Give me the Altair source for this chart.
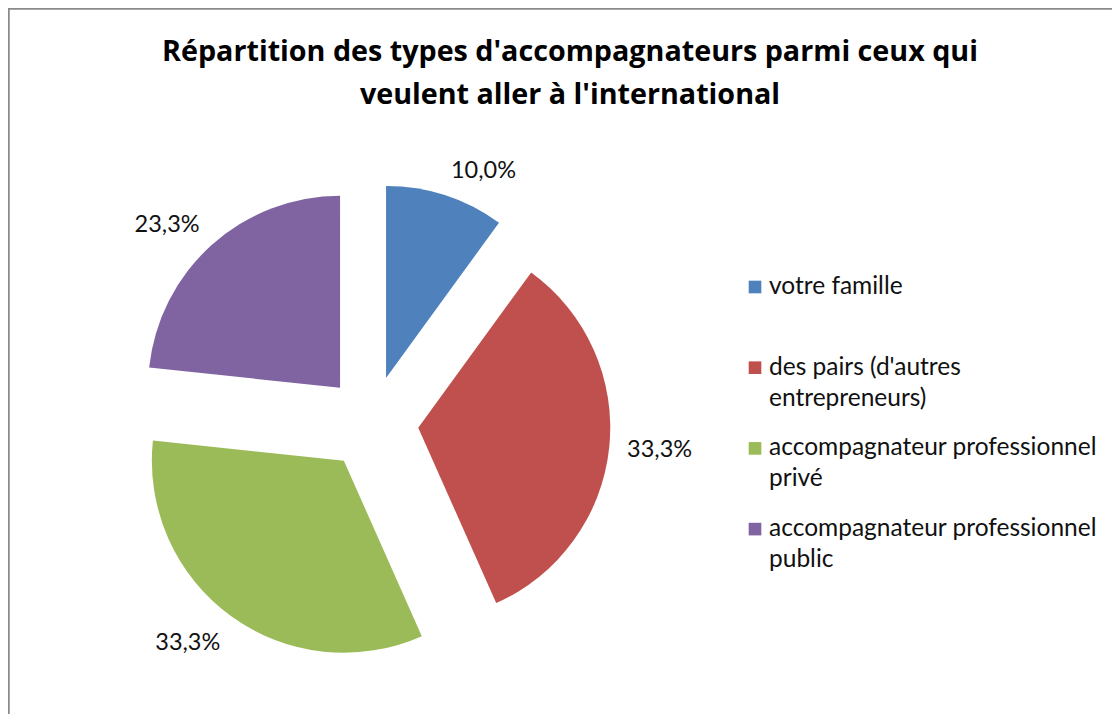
import altair as alt
import pandas as pd

# ---- data ----
categories = [
    "votre famille",
    "des pairs (d'autres entrepreneurs)",
    "accompagnateur professionnel privé",
    "accompagnateur professionnel public",
]
legend_lines = [
    "votre famille",
    "des pairs (d'autres\nentrepreneurs)",
    "accompagnateur professionnel\nprivé",
    "accompagnateur professionnel\npublic",
]
percentages = [10.0, 33.3, 33.3, 23.3]
pct_labels = ["10,0%", "33,3%", "33,3%", "23,3%"]
colors = ["#4F81BD", "#C0504D", "#9BBB59", "#8064A2"]
title_lines = [
    "Répartition des types d'accompagnateurs parmi ceux qui",
    "veulent aller à l'international",
]

# ---- layout / style constants ----
W, H = 1104, 706
CX, CY = 363.5, 414.7      # pie centre (view px)
R = 192                    # pie radius
EXPLODE = 47               # slice explosion distance
LABEL_GAP = 210            # label anchor distance from exploded apex
LEG_X, LEG_Y0, LEG_STEP = 747, 279, 80.7
FONT = "Lato"
TITLE_FONT = "Open Sans"
BORDER = "#8a8a8a"

df = pd.DataFrame({
    "cat": categories,
    "legend": legend_lines,
    "pct": percentages,
    "lab": pct_labels,
    "order": list(range(len(categories))),
})

color_scale = alt.Scale(domain=categories, range=colors)

base = (
    alt.Chart(df)
    .transform_window(cum="sum(pct)", sort=[alt.SortField("order")], frame=[None, 0])
    .transform_joinaggregate(total="sum(pct)")
    .transform_calculate(
        a0="(datum.cum - datum.pct) / datum.total * 2 * PI",
        a1="datum.cum / datum.total * 2 * PI",
    )
    .transform_calculate(mid="(datum.a0 + datum.a1) / 2")
    .transform_calculate(
        sx="sin(datum.mid)",
        cs="cos(datum.mid)",
    )
    .transform_calculate(
        cx=f"{CX} + {EXPLODE} * datum.sx",
        cy=f"{CY} - {EXPLODE} * datum.cs",
    )
    .transform_calculate(
        lx=f"datum.cx + {LABEL_GAP} * datum.sx",
        ly=f"datum.cy - {LABEL_GAP} * datum.cs",
    )
)

arcs = base.mark_arc(radius=R).encode(
    x=alt.X("cx:Q", scale=None),
    y=alt.Y("cy:Q", scale=None),
    theta=alt.Theta("a0:Q", scale=None, stack=False),
    theta2="a1:Q",
    color=alt.Color("cat:N", scale=color_scale, legend=None),
)

labels = base.mark_text(
    font=FONT,
    fontSize=23.5,
    color="#111111",
    align={"expr": "datum.sx > 0 ? 'left' : 'right'"},
    baseline={"expr": "datum.cs > 0.3 ? 'alphabetic' : (datum.cs < -0.3 ? 'top' : 'middle')"},
).encode(
    x=alt.X("lx:Q", scale=None),
    y=alt.Y("ly:Q", scale=None),
    text="lab:N",
)

leg_base = alt.Chart(df).transform_calculate(
    ly=f"{LEG_Y0} + datum.order * {LEG_STEP}"
)

leg_sq = leg_base.mark_square(size=160, opacity=1, filled=True).encode(
    x=alt.value(LEG_X),
    y=alt.Y("ly:Q", scale=None),
    color=alt.Color("cat:N", scale=color_scale, legend=None),
)

leg_txt = leg_base.mark_text(
    font=FONT, fontSize=24.5, color="#111111", align="left",
    baseline="alphabetic", lineBreak="\n", lineHeight=31, dy=7,
).encode(
    x=alt.value(LEG_X + 14),
    y=alt.Y("ly:Q", scale=None),
    text="legend:N",
)

title = alt.Chart(pd.DataFrame({"t": ["\n".join(title_lines)]})).mark_text(
    font=TITLE_FONT, fontSize=28.7, fontWeight="bold", color="#000000",
    align="center", baseline="alphabetic", lineBreak="\n", lineHeight=43,
).encode(
    x=alt.value(562),
    y=alt.value(53),
    text="t:N",
)

one = alt.Data(values=[{}])
top_rule = alt.Chart(one).mark_rule(color=BORDER, strokeWidth=2.5).encode(
    x=alt.value(0), x2=alt.value(W), y=alt.value(0.5)
)
left_rule = alt.Chart(one).mark_rule(color=BORDER, strokeWidth=2.5).encode(
    x=alt.value(0.5), y=alt.value(0), y2=alt.value(H)
)

chart = (
    alt.layer(arcs, labels, leg_sq, leg_txt, title, top_rule, left_rule)
    .properties(width=W, height=H, padding=0,
                autosize=alt.AutoSizeParams(type="none"),
                background="white")
    .configure_view(stroke=None)
)

chart.save("out.html", embed_options={"renderer": "svg", "actions": False})
